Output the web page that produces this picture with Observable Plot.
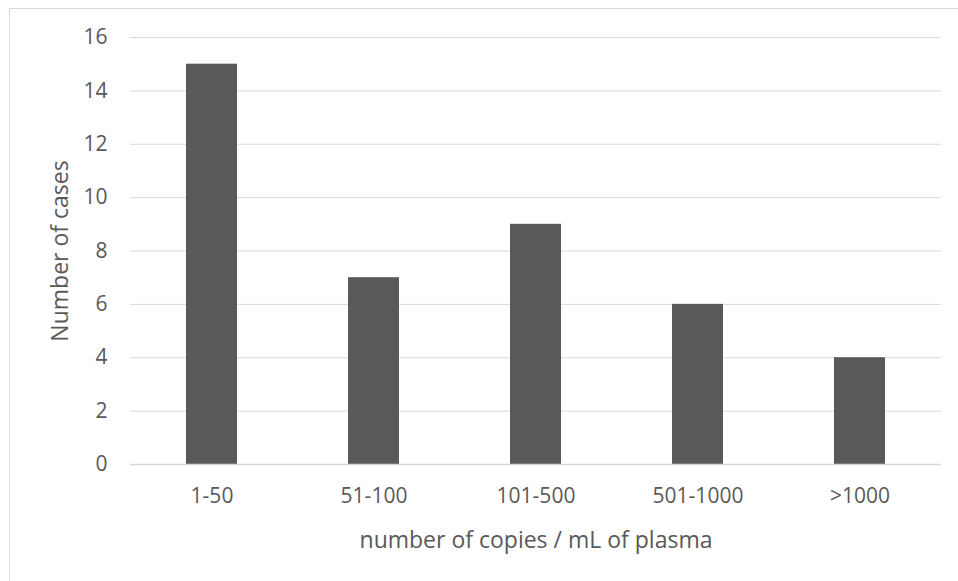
<!DOCTYPE html>
<html>
<head>
<meta charset="utf-8">
<script src="https://cdn.jsdelivr.net/npm/d3@7"></script>
<script src="https://cdn.jsdelivr.net/npm/@observablehq/plot@0.6"></script>
<style>
  html, body { margin: 0; padding: 0; background: #fff; overflow: hidden; }
  #wrap { position: relative; width: 958px; height: 581px; }
  #border { position: absolute; left: 9px; top: 8px; width: 980px; height: 600px; border: 1px solid #d9d9d9; box-sizing: border-box; pointer-events: none; }
  #chart { position: absolute; left: 0; top: 0; }
</style>
</head>
<body>
<div id="wrap"><div id="border"></div><div id="chart"></div></div>
<script>
const categories = ["1-50", "51-100", "101-500", "501-1000", ">1000"];
const cases = [15, 7, 9, 6, 4];
const yTicks = [0, 2, 4, 6, 8, 10, 12, 14, 16];
const xTitle = "number of copies / mL of plasma";
const yTitle = "Number of cases";

const data = categories.map((c, i) => ({category: c, value: cases[i]}));
const font = "'Open Sans', 'Segoe UI', sans-serif";
const textColor = "#595959";

const chart = Plot.plot({
  width: 958,
  height: 581,
  marginLeft: 130,
  marginRight: 17,
  marginTop: 37,
  marginBottom: 117,
  style: {fontFamily: font, fontSize: "21px", color: textColor, background: "transparent"},
  x: {domain: categories, paddingInner: 0.6875, paddingOuter: 0.34375, label: null},
  y: {domain: [0, 16], label: null},
  marks: [
    Plot.gridY(yTicks, {stroke: "#d9d9d9", strokeOpacity: 1, strokeWidth: 1}),
    Plot.barY(data, {x: "category", y: "value", fill: "#595959"}),
    Plot.ruleY([0], {stroke: "#d9d9d9", strokeWidth: 1.5}),
    Plot.axisY({ticks: yTicks, tickSize: 0, tickPadding: 23, fontSize: 21, label: yTitle, labelAnchor: "center", labelArrow: "none", labelOffset: 79}),
    Plot.axisX({tickSize: 0, tickPadding: 24, fontSize: 21, label: xTitle, labelAnchor: "center", labelArrow: "none", labelOffset: 83})
  ]
});
chart.querySelectorAll("[aria-label='y-axis label'] text, [aria-label='x-axis label'] text").forEach(t => t.setAttribute("font-size", "23px"));
document.getElementById("chart").appendChild(chart);
</script>
</body>
</html>
